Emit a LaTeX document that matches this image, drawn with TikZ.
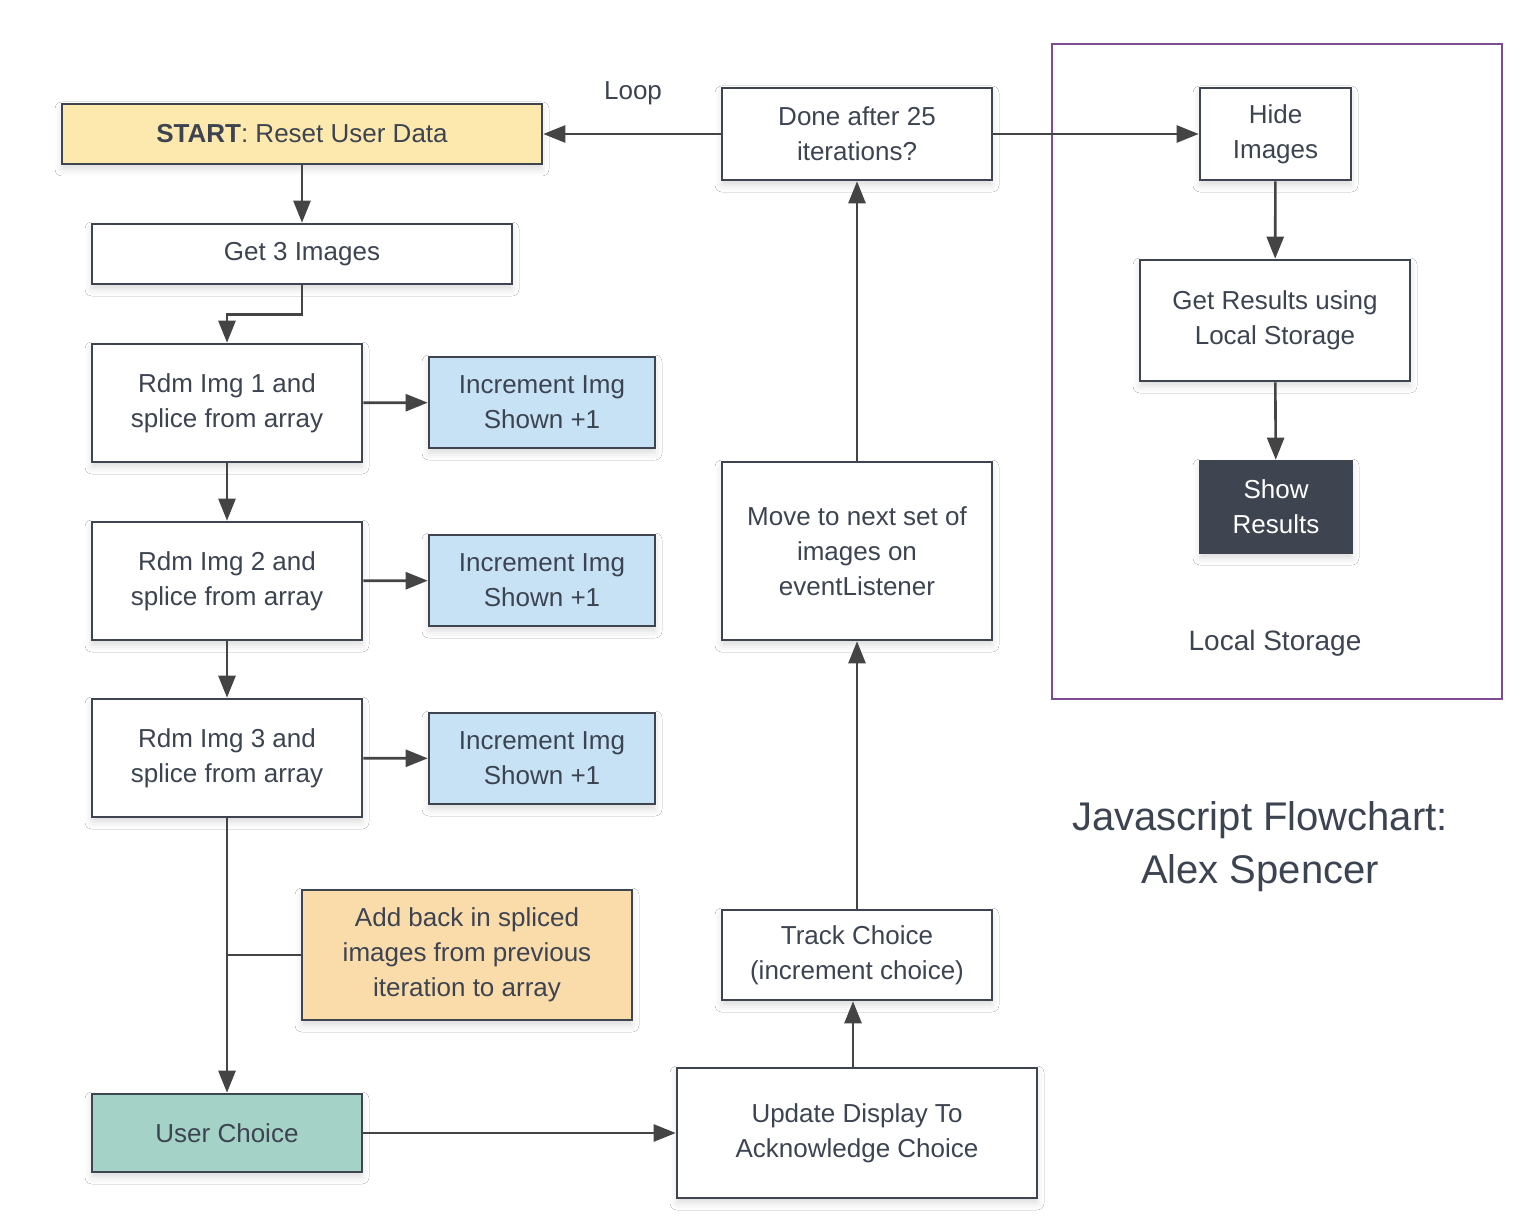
\documentclass[tikz,border=0pt]{standalone}
\usepackage{fontspec}
\setmainfont{Liberation Sans}
\usetikzlibrary{arrows.meta,shadows.blur}
\definecolor{ink}{HTML}{3D4451}
\definecolor{edge}{HTML}{3F4550}
\definecolor{conn}{HTML}{444444}
\definecolor{startfill}{HTML}{FDE9AE}
\definecolor{incfill}{HTML}{C7E2F5}
\definecolor{addfill}{HTML}{FADBAA}
\definecolor{userfill}{HTML}{A5D2C7}
\definecolor{showfill}{HTML}{3E4550}
\definecolor{frame}{HTML}{7D4C92}
\tikzset{
  box/.style={draw=edge, line width=2.6pt, fill=white, align=center, inner sep=0pt,
    text=ink, font=\fontsize{26}{35}\selectfont,
    blur shadow={shadow xshift=0pt, shadow yshift=-5pt, shadow blur radius=7pt, shadow opacity=14}},
  conn/.style={draw=conn, line width=2.6pt, -{Triangle[length=22pt,width=17pt]}},
  plain/.style={draw=conn, line width=2.6pt},
  lbl/.style={text=ink, font=\fontsize{26}{35}\selectfont, align=center}
}
\begin{document}
\begin{tikzpicture}[x=1pt,y=-1pt]
\useasboundingbox[fill=white] (0,0) rectangle (1530,1230);
% frame
\draw[frame, line width=2.6pt] (1052,44) rectangle (1502,699);
% nodes
\node[box, fill=startfill, minimum width=480pt, minimum height=60pt] (start) at (302,134) {\textbf{START}: Reset User Data};
\node[box, minimum width=420pt, minimum height=60pt] (get3) at (302,254) {Get 3 Images};
\node[box, minimum width=270pt, minimum height=118pt] (rdm1) at (227,403) {Rdm Img 1 and\\splice from array};
\node[box, minimum width=270pt, minimum height=118pt] (rdm2) at (227,581) {Rdm Img 2 and\\splice from array};
\node[box, minimum width=270pt, minimum height=118pt] (rdm3) at (227,758) {Rdm Img 3 and\\splice from array};
\node[box, fill=incfill, minimum width=226pt, minimum height=91pt] (inc1) at (542,402.5) {Increment Img\\Shown +1};
\node[box, fill=incfill, minimum width=226pt, minimum height=91pt] (inc2) at (542,580.5) {Increment Img\\Shown +1};
\node[box, fill=incfill, minimum width=226pt, minimum height=91pt] (inc3) at (542,758.5) {Increment Img\\Shown +1};
\node[box, fill=addfill, minimum width=330pt, minimum height=130pt] (addback) at (467,955) {Add back in spliced\\images from previous\\iteration to array};
\node[box, fill=userfill, minimum width=270pt, minimum height=78pt] (user) at (227,1133) {User Choice};
\node[box, minimum width=360pt, minimum height=130pt] (update) at (857,1133) {Update Display To\\Acknowledge Choice};
\node[box, minimum width=270pt, minimum height=90pt] (track) at (857,955) {Track Choice\\(increment choice)};
\node[box, minimum width=270pt, minimum height=178pt] (move) at (857,551) {Move to next set of\\images on\\eventListener};
\node[box, minimum width=270pt, minimum height=92pt] (done) at (857,134) {Done after 25\\iterations?};
\node[box, minimum width=151pt, minimum height=92pt] (hide) at (1275.5,134) {Hide\\Images};
\node[box, minimum width=270pt, minimum height=121pt] (getres) at (1275,320.5) {Get Results using\\Local Storage};
\node[box, draw=showfill, fill=showfill, text=white, minimum width=152pt, minimum height=92pt] (show) at (1276,507) {Show\\Results};
% labels
\node[lbl] (loop) at (633,93) {Loop};
\node[lbl, font=\fontsize{28}{35}\selectfont] (lslabel) at (1275,643) {Local Storage};
\node[lbl, font=\fontsize{40}{53}\selectfont] (title) at (1260,847) {Javascript Flowchart:\\Alex Spencer};
% connectors
\draw[conn] (start) -- (get3);
\draw[conn] (get3.south) -- ++(0,29) -| (rdm1.north);
\draw[conn] (rdm1) -- (rdm2);
\draw[conn] (rdm2) -- (rdm3);
\draw[conn] (rdm1) -- (inc1);
\draw[conn] (rdm2) -- (inc2);
\draw[conn] (rdm3) -- (inc3);
\draw[conn] (rdm3) -- (user);
\draw[plain] (addback.west) -- (addback.west -| rdm3.south);
\draw[conn] (user) -- (update);
\draw[conn] ([xshift=-4pt]update.north) -- ([xshift=-4pt]track.south);
\draw[conn] (track) -- (move);
\draw[conn] (move) -- (done);
\draw[conn] (done) -- (start);
\draw[conn] (done) -- (hide);
\draw[conn] (hide) -- (getres);
\draw[conn] (getres) -- (show);
\end{tikzpicture}
\end{document}
